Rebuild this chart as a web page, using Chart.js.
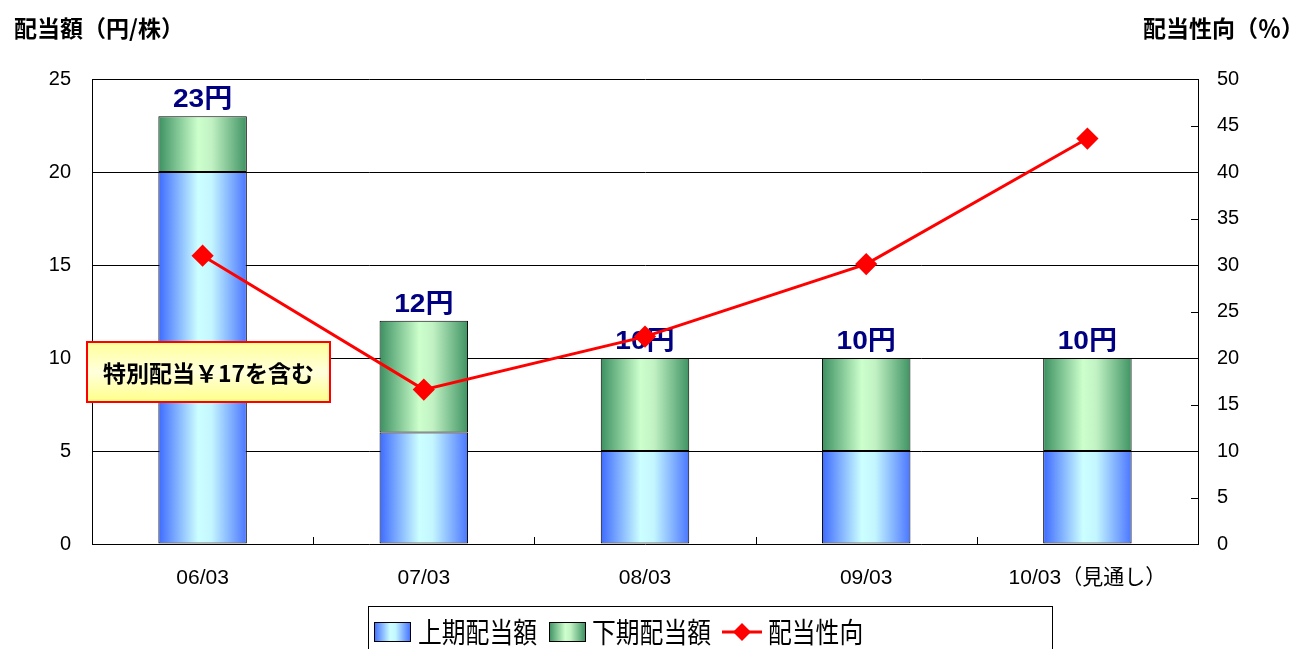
<!DOCTYPE html>
<html>
<head>
<meta charset="utf-8">
<script src="https://cdn.jsdelivr.net/npm/chart.js@4/dist/chart.umd.min.js"></script>
<style>
  html, body { margin: 0; padding: 0; background: #fff; }
  #wrap { width: 1301px; height: 649px; position: relative; }
</style>
</head>
<body>
<div id="wrap"><canvas id="myChart"></canvas></div>
<script>
const categories = ["06/03", "07/03", "08/03", "09/03", "10/03（見通し）"];
const firstHalf = [20, 6, 5, 5, 5];
const secondHalf = [3, 6, 5, 5, 5];
const payoutRatio = [31, 16.6, 22.3, 30.1, 43.6];
const rightTicks = [0, 5, 10, 15, 20, 25, 30, 35, 40, 45, 50];

const FONT = "'Liberation Sans', 'Noto Sans CJK JP', sans-serif";
const CJK = "'Noto Sans CJK JP', sans-serif";
const BAR_PCT = 0.4;
const blueStops = [[0, "#3d6aff"], [0.45, "#ccffff"], [0.6, "#c4f6ff"], [1, "#4a76ff"]];
const greenStops = [[0, "#3c9061"], [0.45, "#ccffcc"], [0.6, "#c2f2c4"], [1, "#3f9363"]];

function makeGradient(c, x0, x1, stops) {
  const g = c.createLinearGradient(x0, 0, x1, 0);
  stops.forEach(s => g.addColorStop(s[0], s[1]));
  return g;
}

function barFill(stops) {
  return (ctx) => {
    const chart = ctx.chart;
    const area = chart.chartArea;
    if (!area || ctx.dataIndex === undefined) return stops[1][1];
    const x = chart.scales.x.getPixelForValue(ctx.dataIndex);
    const w = area.width / categories.length * BAR_PCT;
    return makeGradient(chart.ctx, x - w / 2, x + w / 2, stops);
  };
}

// draw text squeezed horizontally (the original font is narrow)
function squeezed(c, text, x, y, sx) {
  c.save();
  c.translate(x, y);
  c.scale(sx, 1);
  c.fillText(text, 0, 0);
  c.restore();
}

const extras = {
  id: "extras",
  beforeDatasetDraw(chart, args) {
    // totals above bars, drawn under the line
    if (args.index !== 2) return;
    const c = chart.ctx;
    c.save();
    c.font = "bold 26px " + FONT;
    c.fillStyle = "#000080";
    c.textAlign = "center";
    c.textBaseline = "bottom";
    categories.forEach((_, i) => {
      const total = firstHalf[i] + secondHalf[i];
      const x = chart.scales.x.getPixelForValue(i);
      const y = chart.scales.y.getPixelForValue(total);
      squeezed(c, total + "円", x, y - 3, 1.08);
    });
    c.restore();
  },
  afterDraw(chart) {
    const c = chart.ctx;
    const area = chart.chartArea;
    const x = chart.scales.x;
    const y1 = chart.scales.y1;
    c.save();
    c.strokeStyle = "#000";
    c.lineWidth = 1;
    // inward category ticks
    for (let i = 1; i < categories.length; i++) {
      const px = Math.round((x.getPixelForValue(i - 1) + x.getPixelForValue(i)) / 2) + 0.5;
      c.beginPath();
      c.moveTo(px, area.bottom);
      c.lineTo(px, area.bottom - 7);
      c.stroke();
    }
    // inward right axis ticks
    rightTicks.forEach(v => {
      const py = Math.round(y1.getPixelForValue(v)) + 0.5;
      c.beginPath();
      c.moveTo(area.right, py);
      c.lineTo(area.right - 7, py);
      c.stroke();
    });

    // axis titles
    c.fillStyle = "#000";
    c.font = "bold 23px " + CJK;
    c.textBaseline = "middle";
    c.textAlign = "left";
    c.fillText("配当額（円/株）", 14, 28);
    c.textAlign = "right";
    c.fillText("配当性向（％）", 1304, 28);

    // note box
    const bx = area.left - 5, by = 342, bw = 243, bh = 60;
    const g = c.createLinearGradient(0, by, 0, by + bh);
    g.addColorStop(0, "#ffff99");
    g.addColorStop(0.5, "#ffffdd");
    g.addColorStop(1, "#ffff88");
    c.fillStyle = g;
    c.fillRect(bx, by, bw, bh);
    c.strokeStyle = "#ff0000";
    c.lineWidth = 2;
    c.strokeRect(bx, by, bw, bh);
    c.fillStyle = "#000";
    c.font = "bold 23px " + CJK;
    c.textAlign = "center";
    c.fillText("特別配当￥17を含む", bx + bw / 2, by + bh / 2 + 1);

    // legend
    const lx = 368, ly = 606, lw = 684, lh = 60;
    c.fillStyle = "#fff";
    c.fillRect(lx, ly, lw, lh);
    c.strokeStyle = "#000";
    c.lineWidth = 1;
    c.strokeRect(lx + 0.5, ly + 0.5, lw, lh);
    const cy = 632;
    c.font = "28px " + CJK;
    c.textAlign = "left";
    c.textBaseline = "middle";
    c.fillStyle = makeGradient(c, 374, 410, blueStops);
    c.fillRect(374, 622, 36, 19);
    c.strokeRect(374.5, 622.5, 36, 19);
    c.fillStyle = "#000";
    squeezed(c, "上期配当額", 418, cy, 0.85);
    c.fillStyle = makeGradient(c, 549, 585, greenStops);
    c.fillRect(549, 622, 36, 19);
    c.strokeRect(549.5, 622.5, 36, 19);
    c.fillStyle = "#000";
    squeezed(c, "下期配当額", 592, cy, 0.85);
    c.strokeStyle = "#ff0000";
    c.lineWidth = 3;
    c.beginPath();
    c.moveTo(722, cy);
    c.lineTo(762, cy);
    c.stroke();
    c.fillStyle = "#ff0000";
    c.beginPath();
    c.moveTo(742, cy - 9);
    c.lineTo(751, cy);
    c.lineTo(742, cy + 9);
    c.lineTo(733, cy);
    c.closePath();
    c.fill();
    c.fillStyle = "#000";
    squeezed(c, "配当性向", 768, cy, 0.85);
    c.restore();
  }
};

const ctx = document.getElementById("myChart").getContext("2d");
new Chart(ctx, {
  type: "bar",
  data: {
    labels: categories,
    datasets: [
      {
        label: "上期配当額",
        data: firstHalf,
        backgroundColor: barFill(blueStops),
        borderColor: "#000",
        borderWidth: 1,
        borderSkipped: false,
        categoryPercentage: 1,
        barPercentage: BAR_PCT,
        order: 1
      },
      {
        label: "下期配当額",
        data: secondHalf,
        backgroundColor: barFill(greenStops),
        borderColor: "#000",
        borderWidth: 1,
        borderSkipped: false,
        categoryPercentage: 1,
        barPercentage: BAR_PCT,
        order: 1
      },
      {
        type: "line",
        label: "配当性向",
        data: payoutRatio,
        yAxisID: "y1",
        borderColor: "#ff0000",
        backgroundColor: "#ff0000",
        borderWidth: 3,
        pointStyle: "rectRot",
        pointRadius: 9,
        pointHoverRadius: 9,
        tension: 0,
        order: 0
      }
    ]
  },
  options: {
    responsive: true,
    maintainAspectRatio: false,
    animation: false,
    layout: { padding: { top: 79, bottom: 0, left: 0, right: 0 } },
    plugins: { legend: { display: false }, tooltip: { enabled: false } },
    scales: {
      x: {
        stacked: true,
        grid: { display: false, drawTicks: false },
        border: { display: false },
        ticks: { color: "#000", font: { family: FONT, size: 21 }, padding: 22, maxRotation: 0 },
        afterFit: (s) => { s.height = 105; }
      },
      y: {
        stacked: true,
        min: 0,
        max: 25,
        ticks: { stepSize: 5, color: "#000", font: { family: FONT, size: 20 }, padding: 21 },
        grid: { color: "#000", lineWidth: 1, drawTicks: false },
        border: { display: true, color: "#000", width: 1 },
        afterFit: (s) => { s.width = 92; }
      },
      y1: {
        position: "right",
        min: 0,
        max: 50,
        ticks: { stepSize: 5, color: "#000", font: { family: FONT, size: 20 }, padding: 19 },
        grid: { drawOnChartArea: false, drawTicks: false },
        border: { display: true, color: "#000", width: 1 },
        afterFit: (s) => { s.width = 103; }
      }
    }
  },
  plugins: [extras]
});
</script>
</body>
</html>
